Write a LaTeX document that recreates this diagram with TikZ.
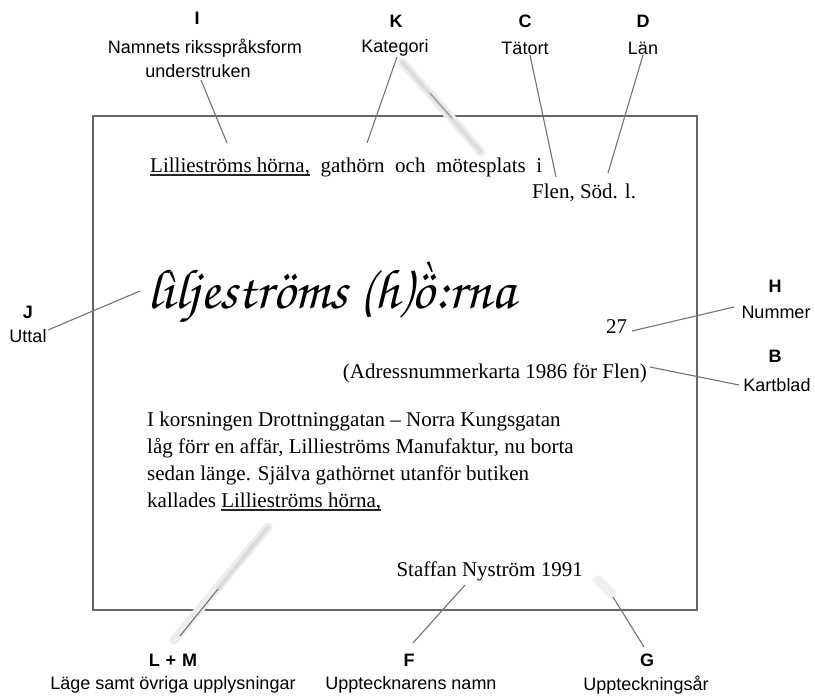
\documentclass[tikz,border=0pt]{standalone}
\usepackage[T1]{fontenc}
\usepackage{fontspec}
\usepackage{graphicx}
\setmainfont{Liberation Serif}
\newfontfamily\lblfont{Liberation Sans}
\newlength{\ulw}
\newcommand{\thickul}[1]{\settowidth{\ulw}{#1}\rlap{\textcolor{black!85}{\rule[-3.6pt]{\ulw}{1.8pt}}}\mbox{#1}}
\newcommand{\handtext}{{\fontencoding{T1}\fontfamily{pzc}\fontseries{mb}\fontshape{it}\selectfont l\`{\i}ljestr\"oms (h)\makebox[0pt][l]{\hspace{0.1em}\raisebox{0.16em}{\`{}}}\"o:rna}}
\begin{document}
\begin{tikzpicture}[x=1pt,y=-1pt,
  lbl/.style={font=\lblfont\fontsize{18}{22}\selectfont, inner sep=0pt},
  lett/.style={font=\lblfont\bfseries\fontsize{18}{22}\selectfont, inner sep=0pt},
  txt/.style={font=\fontsize{21}{25}\selectfont, inner sep=0pt, anchor=base west},
  txtr/.style={font=\fontsize{21}{25}\selectfont, inner sep=0pt, anchor=base east},
  conn/.style={draw=black!55, line width=1.1pt},
  blurline/.style={draw=black!7, line width=9pt, line cap=round},
  blurcore/.style={draw=black!14, line width=3.5pt, line cap=round},
  framebox/.style={draw=black!60, line width=1.5pt}]
\useasboundingbox[fill=white] (0,0) rectangle (815,699);

% frame
\draw[framebox] (93,116) rectangle (697,610);

% top labels
\node[lett] (Il) at (197,18) {I};
\node[lbl] (Ia) at (205,48) {Namnets riksspråksform};
\node[lbl] (Ib) at (198,71) {understruken};
\node[lett] (Kl) at (396,21) {K};
\node[lbl] (K) at (395,48) {Kategori};
\node[lett] (Cl) at (525,21) {C};
\node[lbl] (C) at (525,48) {Tätort};
\node[lett] (Dl) at (643,21) {D};
\node[lbl] (D) at (643,48) {Län};

% side labels
\node[lett] (Jl) at (28,312) {J};
\node[lbl] (J) at (28,336) {Uttal};
\node[lett] (Hl) at (775,286) {H};
\node[lbl] (H) at (776,312) {Nummer};
\node[lett] (Bl) at (775,356) {B};
\node[lbl] (B) at (777,385) {Kartblad};

% bottom labels
\node[lett] (LMl) at (173,660) {L\,\,+\,\,M};
\node[lbl] (LM) at (173,685) {Läge samt övriga upplysningar};
\node[lett] (Fl) at (409,660) {F};
\node[lbl] (F) at (411,685) {Upptecknarens namn};
\node[lett] (Gl) at (647,660) {G};
\node[lbl] (G) at (646,685) {Uppteckningsår};

% record text
\node[txt] (l1) at (150,172) {\makebox[392pt][s]{\thickul{Lillieströms hörna,} gathörn och mötesplats i}};
\node[txt] (flen) at (532,198) {Flen, Söd. l.};
\node[txt] (pron) at (147,308) {\resizebox{368pt}{!}{\handtext}};
\node[txt] (num) at (606,333) {27};
\node[txtr] (adr) at (647,378) {(Adressnummerkarta 1986 för Flen)};
\node[txt] (p1) at (147,426) {I korsningen Drottninggatan – Norra Kungsgatan};
\node[txt] (p2) at (147,453) {låg förr en affär, Lillieströms Manufaktur, nu borta};
\node[txt] (p3) at (147,480) {sedan länge. Själva gathörnet utanför butiken};
\node[txt] (p4) at (147,507) {kallades \thickul{Lillieströms hörna,}};
\node[txtr] (sign) at (583,576) {Staffan Nyström 1991};

% connector end points
\coordinate (cI1) at (201,80);   \coordinate (cI2) at (227,143);
\coordinate (cK1) at (397,57);   \coordinate (cK2) at (367,143);
\coordinate (cC1) at (530,55);   \coordinate (cC2) at (556,177);
\coordinate (cD1) at (643,55);   \coordinate (cD2) at (608,173);
\coordinate (cJ1) at (48,330);   \coordinate (cJ2) at (140,291);
\coordinate (cH1) at (632,331);  \coordinate (cH2) at (734,307);
\coordinate (cB1) at (650,367);  \coordinate (cB2) at (739,385);
\coordinate (cL1) at (180,636);  \coordinate (cL2) at (218,589);
\coordinate (cF1) at (413,643);  \coordinate (cF2) at (465,585);
\coordinate (cG1) at (644,647);  \coordinate (cG2) at (613,597);

% blurred (scanned) strokes
\coordinate (bK1) at (402,62);   \coordinate (bK2) at (481,152);
\coordinate (bK3) at (430,93);   \coordinate (bK4) at (452,118);
\coordinate (bL1) at (174,640);  \coordinate (bL2) at (268,527);
\coordinate (bG1) at (612,594);  \coordinate (bG2) at (598,580);
\draw[blurline] (bK1) -- (bK2);
\draw[blurcore] (bK1) -- (bK2);
\draw[conn, draw=black!40] (bK3) -- (bK4);
\draw[blurline] (bL1) -- (bL2);
\draw[blurcore] (cL2) -- (bL2);
\draw[blurline, draw=black!6] (bG1) -- (bG2);

% connectors
\draw[conn] (cI1) -- (cI2);
\draw[conn] (cK1) -- (cK2);
\draw[conn] (cC1) -- (cC2);
\draw[conn] (cD1) -- (cD2);
\draw[conn] (cJ1) -- (cJ2);
\draw[conn] (cH1) -- (cH2);
\draw[conn] (cB1) -- (cB2);
\draw[conn] (cL1) -- (cL2);
\draw[conn] (cF1) -- (cF2);
\draw[conn] (cG1) -- (cG2);
\end{tikzpicture}
\end{document}
